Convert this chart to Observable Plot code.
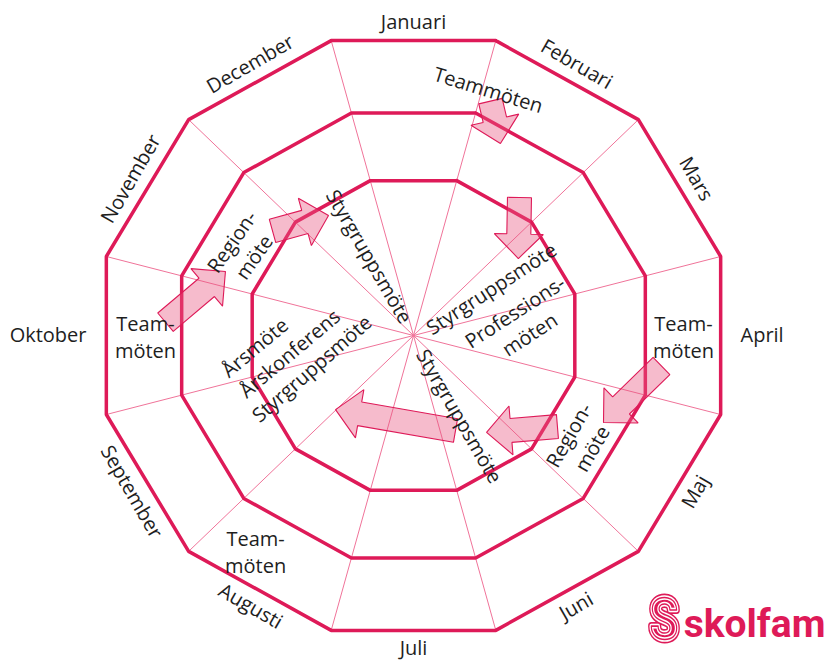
<!DOCTYPE html>
<html><head><meta charset="utf-8">
<script src="https://cdn.jsdelivr.net/npm/d3@7"></script>
<script src="https://cdn.jsdelivr.net/npm/@observablehq/plot@0.6"></script>
<style>
html,body{margin:0;padding:0;background:#fff;}
#chart{width:827px;height:661px;}
</style></head><body><div id="chart"></div>
<script>
// ---- data ----
const months = ["Januari","Februari","Mars","April","Maj","Juni","Juli","Augusti","September","Oktober","November","December"];
const ringRadii = [167, 240, 318];

const activityText = ["Teammöten","Styrgruppsmöte","Professions-\nmöten","Team-\nmöten","Region-\nmöte","Styrgruppsmöte","Team-\nmöten","Årsmöte","Årskonferens","Styrgruppsmöte","Team-\nmöten","Region-\nmöte","Styrgruppsmöte"];
const activityAngle = [16.3, 57, 82.6, 90, 123.6, 150.5, 215.2, 265.9, 262, 252, 270, 297.8, 332.6];
const activityRadius = [268, 92, 109, 270, 199, 95.6, 274, 160, 126, 108, 268, 194, 93.5];
const activityRotate = [17, -33, -33, 0, -60, 60, 0, -40, -40, -41, 0, -55, 60];

const arrowFromAngle = [17.5, 36.4, 97.3, 123.4, 157, 273.2, 307.7];
const arrowFromRadius = [256, 178.6, 250, 172.4, 107.5, 248.4, 178.2];
const arrowToAngle = [23.5, 52.6, 115.5, 144.1, 225.3, 289.5, 325.8];
const arrowToRadius = [218, 132, 210.5, 124.6, 109.7, 199.5, 151.2];

const brand = "skolfam";

// ---- layout ----
const W = 827, H = 661, cx = 413, cy = 335, squash = 0.96;
const crimson = "#DE1A58", spokeColor = "#F07399", ink = "#1e1e1e";
const rad = d => d * Math.PI / 180;
const pt = (a, r) => ({x: cx + r * Math.sin(rad(a)), y: cy - squash * r * Math.cos(rad(a))});

// rings (closed dodecagons)
const ringPts = [];
ringRadii.forEach((r, ri) => {
  for (let i = 0; i <= 12; i++) ringPts.push({ring: ri, ...pt(15 + 30 * i, r)});
});
// spokes
const spokes = d3.range(12).map(i => ({a: pt(15 + 30 * i, 0), b: pt(15 + 30 * i, ringRadii[2])}));

// month labels
const monthLabels = months.map((m, i) => {
  const a = 30 * i;
  let rot = ((a + 90) % 180) - 90;
  const side = a === 90 ? "start" : a === 270 ? "end" : "middle";
  if (side !== "middle") rot = 0;
  return {text: m, rot, side, ...pt(a, side === "middle" ? 326 : 327)};
});

// activities
const activities = activityText.map((t, i) => ({text: t, rot: activityRotate[i], ...pt(activityAngle[i], activityRadius[i])}));

// arrows as block-arrow polygons
const shaftHalf = 12, headHalf = 24.5, headLen = 24.5;
const arrowPts = [];
arrowFromAngle.forEach((_, i) => {
  const T = pt(arrowFromAngle[i], arrowFromRadius[i]);
  const P = pt(arrowToAngle[i], arrowToRadius[i]);
  const dx = P.x - T.x, dy = P.y - T.y, L = Math.hypot(dx, dy);
  const ux = dx / L, uy = dy / L, nx = -uy, ny = ux;
  const B = {x: P.x - ux * headLen, y: P.y - uy * headLen};
  const poly = [
    [T.x + nx * shaftHalf, T.y + ny * shaftHalf],
    [B.x + nx * shaftHalf, B.y + ny * shaftHalf],
    [B.x + nx * headHalf, B.y + ny * headHalf],
    [P.x, P.y],
    [B.x - nx * headHalf, B.y - ny * headHalf],
    [B.x - nx * shaftHalf, B.y - ny * shaftHalf],
    [T.x - nx * shaftHalf, T.y - ny * shaftHalf]
  ];
  poly.push(poly[0]);
  poly.forEach(([x, y]) => arrowPts.push({id: i, x, y}));
});

const font = "'Open Sans', 'DejaVu Sans', sans-serif";
const logoFont = "Roboto, 'Liberation Sans', sans-serif";
const sOpts = {frameAnchor: "bottom-right", textAnchor: "middle", lineAnchor: "middle", dx: -163.5, dy: -41, text: d => d, fontSize: 58, fontWeight: "bold", fontFamily: logoFont, strokeLinejoin: "round", className: "logoS"};

const chart = Plot.plot({
  width: W, height: H,
  margin: 0,
  x: {domain: [0, W], range: [0, W], axis: null},
  y: {domain: [0, H], range: [0, H], axis: null},
  style: {fontFamily: font, background: "#fff", overflow: "visible"},
  marks: [
    Plot.link(spokes, {x1: d => d.a.x, y1: d => d.a.y, x2: d => d.b.x, y2: d => d.b.y, stroke: spokeColor, strokeWidth: 1}),
    Plot.line(ringPts, {x: "x", y: "y", z: "ring", stroke: crimson, strokeWidth: 3.5, strokeLinejoin: "miter"}),
    Plot.line(arrowPts, {x: "x", y: "y", z: "id", fill: "#E8557F", fillOpacity: 0.4, stroke: crimson, strokeWidth: 1.1, strokeLinejoin: "miter"}),
    Plot.text(monthLabels.filter(d => d.side === "middle"), {x: "x", y: "y", text: "text", rotate: "rot", fontSize: 20, fill: ink}),
    Plot.text(monthLabels.filter(d => d.side === "start"), {x: "x", y: "y", text: "text", textAnchor: "start", fontSize: 20, fill: ink}),
    Plot.text(monthLabels.filter(d => d.side === "end"), {x: "x", y: "y", text: "text", textAnchor: "end", fontSize: 20, fill: ink}),
    Plot.text(activities, {x: "x", y: "y", text: "text", rotate: "rot", fontSize: 20, lineHeight: 1.35, fill: ink}),
    // logo
    Plot.text(["S"], {...sOpts, fill: crimson, stroke: crimson, strokeWidth: 8}),
    Plot.text(["S"], {...sOpts, fill: "none", stroke: "#fff", strokeWidth: 4.5}),
    Plot.text(["S"], {...sOpts, fill: "none", stroke: crimson, strokeWidth: 1.5}),
    Plot.text([brand], {frameAnchor: "bottom-right", textAnchor: "end", lineAnchor: "middle", dx: -2, dy: -36.5, text: d => d, fontSize: 39, fontWeight: "bold", fontFamily: logoFont, fill: crimson})
  ]
});
document.getElementById("chart").appendChild(chart);
d3.select(chart).selectAll(".logoS text").attr("transform", function() {
  return (this.getAttribute("transform") || "") + " scale(0.8,1)";
});
</script></body></html>
